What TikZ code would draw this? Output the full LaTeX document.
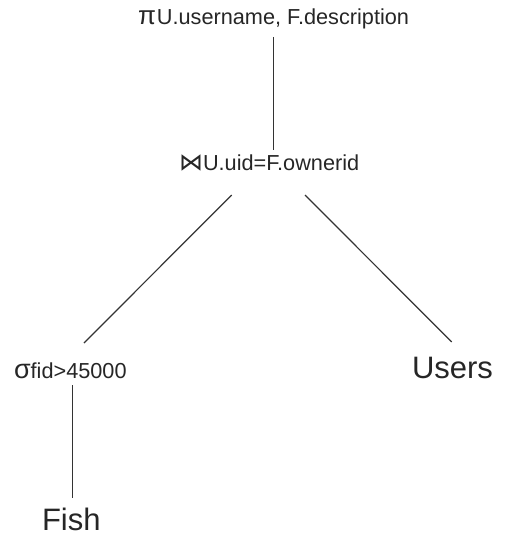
\documentclass[tikz,border=0pt]{standalone}
\usepackage{fontspec}
\setmainfont{Liberation Sans}
\newfontfamily\symfont{DejaVu Sans}
\newcommand{\subfs}{\fontsize{21.7}{24}\selectfont}
\begin{document}
\begin{tikzpicture}[x=1pt,y=-1pt,
  lbl/.style={inner sep=0pt,outer sep=0pt,anchor=base west,text=black!85},
  big/.style={lbl,font=\fontsize{31}{36}\selectfont},
  edge/.style={line width=1.2pt,black!80}]
\useasboundingbox (0,0) rectangle (505,537);
\node[lbl] (proj) at (138,25) {\fontsize{26}{30}\selectfont π\hspace{1pt}\subfs U.username, F.description};
\node[lbl] (join) at (179,171) {{\symfont\fontsize{24}{28}\selectfont ⋈}\subfs U.uid=F.ownerid};
\node[lbl] (sel) at (14,378) {\fontsize{27}{30}\selectfont σ\subfs fid>45000};
\node[big] (users) at (412,378) {Users};
\node[big] (fish) at (42,530) {Fish};
\coordinate (p1) at (273.3,37);
\coordinate (j1) at (273.3,150);
\coordinate (j2) at (231.7,195);
\coordinate (s1) at (84,343);
\coordinate (j3) at (305,195);
\coordinate (u1) at (451.7,342);
\coordinate (s2) at (72.3,385);
\coordinate (f1) at (72.3,498);
\draw[edge] (p1) -- (j1);
\draw[edge] (j2) -- (s1);
\draw[edge] (j3) -- (u1);
\draw[edge] (s2) -- (f1);
\end{tikzpicture}
\end{document}
